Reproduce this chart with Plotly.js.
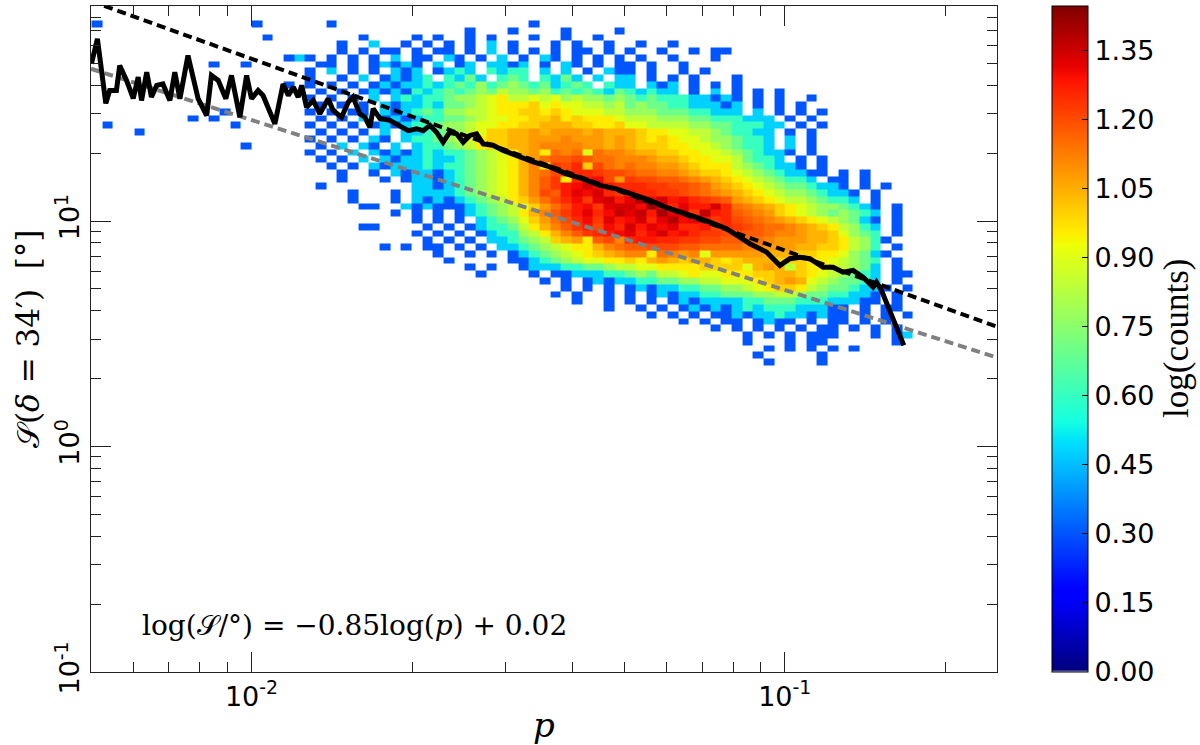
<!DOCTYPE html>
<html>
<head>
<meta charset="utf-8">
<script src="https://cdn.plot.ly/plotly-3.0.1.min.js"></script>
<style>html,body{margin:0;padding:0;background:#fff;}#chart{width:1200px;height:745px;}</style>
</head>
<body>
<div id="chart"></div>
<script>
// ---------- binning grid of the 2D histogram (log10 of p and of S) ----------
const pBinLogStart = -2.30, pBinLogStep = 0.02, pBinCount = 78;
const sBinLogStart = 0.33,  sBinLogStep = 0.03, sBinCount = 52;

// ---------- counts per cell (top row = highest S) ----------
// '.' = empty, otherwise a base-36 count (2..9, a=10 ... s=28); blocks of 10 columns
const countRows = [
'2......... .....2.... ..2....... .......... .2........ .......... .......... ........',
'.......... .......... .......... .....2...2 ....2....2 .......... .......... ........',
'.......... ......2... .....2.... 2.2..2.2.. .2..2..2.. .......... .......... ........',
'.......... .......... ...2..3..2 .2.2.2.3.2 ...2.2..2. .2..2..... .......... ........',
'.......... .......... ...2.2.22. 2.22.2.3.2 .2.2.22.2. 2..2..2.22 .......... ........',
'.......... ........23 2.2.2.2.3. 22.32.2.3. 2.32.2.2.2 .2..2...2. .......... ........',
'.......... .2..2..... .22.2.2323 2.3.23.332 3.2.32.2.2 2.2..2.... .......... ........',
'.......... .......... 2.3.2.2.32 3.2343.434 4.3.3.2.32 2.2..2.2.. .......... ........',
'.......... .......... 2..2.3.232 34.4353.45 4.4353.3.3 3.2.2.2... 2......... ........',
'.......... ........2. 2.2.2.2323 3434546456 5453454.43 3.323.2.2. 2......... ........',
'.......... .......... .2.2.23232 4345456576 6564545435 43433.2.3. 2.2.2..... ........',
'.......... .......... 2.2.2.3.34 3445667897 7878676656 5454443323 2.2.2..2.. ........',
'.......... .......... .2.2.2.323 3435567899 9a89887767 5655443332 3.2.2.2... ........',
'.......... ..2....... 2.2.22.323 4546677899 aa9a988877 6665554433 3.3.2.2.2. ........',
'.........2 .2........ .2.2.3.232 3445567889 9aab9a9998 7776665544 4333.2.2.. ........',
'.2........ ...2...... 2.2.2.2323 4456678899 aabbbaa99a 8877776655 44433.2.2. ........',
'....2..... .......... .2.2.2.3.3 3455678aab bcbcccbcbb ba99887765 4433.2.2.. ........',
'.......... .......... 2.2.2.32.3 4456789aab bcccdcccbc ba9a988766 5443.3.2.. ........',
'.......... ....2..... .2.3.32.3. 3445679aab bcddddccbc baaa998876 5443.3.2.. ........',
'.......... .......... 2.2.3.3232 3434456789 bc9ede8edd cbbaa99887 654332.2.. ........',
'.......... .......... .2.2.3.323 3433456789 bceffgfeed ddcbba9988 75443.2.2. ........',
'.......... .......... ..2.2.3233 3434456789 bd9hgiaged eddccba999 7654332.2. ........',
'.......... .......... ...2..2.32 3323456789 bdeghiihgg feeddcbaa9 876543322. 2.2.....',
'.......... .......... ...2...2.2 3323456789 bdfh9ijkgc hggffedcba 98765443.2 2.2.....',
'.......... .......... .2........ 3323456789 bdfhjkmkji iihhggfecb a987655433 2.2.2...',
'.......... .......... ....2...2. 3333456789 bdgfjlkmih jiihhgfedc ba98766543 32.2....',
'.......... .......... ....2...2. 3232345679 acegikhlmj lpkmjkihgf cba9877654 43.2....',
'.......... .......... .....22..3 2322234567 8acegjkhlm mkqliljjmi edcba98766 5432.2..',
'.......... .......... ........2. 2.2.234567 9bdfhjlikn lnjplmhnji fedca98765 6543.2..',
'.......... .......... .......... 2.2.2.3456 8acegikhlj kmilokljhi gfedcba987 6532.2..',
'.......... .......... .....22... .2.2.23445 79bdfhjgki mjlkliijgi hgfeedcba9 7643.2..',
'.......... .......... .......... 2.2.2.2344 679bdfhijk likmjkihhg gffeddcbba 8654.2..',
'.......... .......... .......... .2.2.2.334 567abc9fgd ijjiihhggf feedcccbba 97642...',
'.......... .......... .......2.2 .22.2.2.33 4567899bde ffgggffeee eddcccbbaa 9764.2..',
'.......... .......... .......... ..2..2.2.2 3456789abc dd9edcd8cc cccbbbaa99 86532...',
'.......... .......... .......... ...2.....2 2345678899 a9bcbabba9 abbbaaa998 7654.2..',
'.......... .......... .......... .....2.2.. 2333445567 7889999aaa a8bcb7a998 7653.2..',
'.......... .......... .......... ......2... .2.2233344 5657789889 99aabba987 6543.22.',
'.......... .......... .......... .......... ..2.2.2323 3445566778 889abcb876 5543.2..',
'.......... .......... .......... .......... ....2.2.2. 2323344556 6789aa9765 54332.2.',
'.......... .......... .......... .......... ...2.2..2. 2.23233445 5566776554 4332.2..',
'.......... .......... .......... .......... .....2..2. 2.2.232333 3445554443 3322.2..',
'.......... .......... .......... .......... ........2. .2.2.23232 3434443332 2.2.22..',
'.......... .......... .......... .......... .......... ..2.2.2.22 3233433232 2.2.2.2.',
'.......... .......... .......... .......... .......... .....2.2.2 2.2322.2.2 2.2.2...',
'.......... .......... .......... .......... .......... ........2. 2.2.2.2.22 .2.2.2..',
'.......... .......... .......... .......... .......... .......... .2.2.2.222 ...2.23.',
'.......... .......... .......... .......... .......... .......... .2...2.22. .....2..',
'.......... .......... .......... .......... .......... .......... ...2.2.2.2 .2......',
'.......... .......... .......... .......... .......... .......... ..2.....2. ........',
'.......... .......... .......... .......... .......... .......... ...2....2. ........',
'.......... .......... .......... .......... .......... .......... .......... ........'
];

// ---------- running curve (black solid line) ----------
const lineP = [0.00501,0.00514,0.00533,0.00542,0.00558,0.00566,0.00583,0.00600,0.00613,0.00622,
0.00636,0.00649,0.00664,0.00682,0.00703,0.00718,0.00734,0.00760,0.00794,0.00824,
0.00841,0.00866,0.00895,0.00917,0.00951,0.00979,0.01000,0.01029,0.01051,0.01106,
0.01146,0.01172,0.01198,0.01223,0.01242,0.01268,0.01305,0.01343,0.01392,0.01422,
0.01475,0.01518,0.01550,0.01596,0.01631,0.01667,0.01691,0.01741,0.01817,0.01897,
0.01967,0.02039,0.02099,0.02160,0.02223,0.02287,0.02354,0.02423,0.02494,0.02567,
0.02642,0.02719,0.02837,0.02963,0.03142,0.03375,0.03625,0.03896,0.04186,0.04498,
0.04834,0.05193,0.05580,0.05998,0.06444,0.06832,0.07233,0.07775,0.08232,0.08599,
0.09240,0.09792,0.1022,0.1067,0.1114,0.1180,0.1232,0.1286,0.1343,0.1402,
0.1464,0.1485,0.1518,0.1574,0.1620,0.1672];
const lineS = [49.9,64.4,33.3,38.0,38.0,49.0,42.1,35.0,43.5,34.3,
45.8,35.5,40.0,40.6,34.3,45.8,34.9,54.3,34.9,29.4,
44.3,42.1,34.9,44.3,28.9,44.3,34.9,38.0,36.1,27.0,
40.6,36.1,39.3,35.5,40.0,32.0,34.3,29.9,34.9,31.0,
28.9,33.7,35.5,29.9,28.9,26.1,31.5,28.5,28.0,26.6,
25.2,25.7,25.2,26.6,24.8,22.4,24.8,24.4,22.4,24.0,
24.4,22.0,21.7,20.6,19.5,18.3,17.4,16.2,15.4,14.4,
13.9,13.2,12.4,11.5,10.8,10.4,9.90,9.25,8.49,7.94,
7.29,6.36,6.81,6.92,6.81,6.25,6.25,5.94,6.05,5.64,
5.10,5.36,4.93,3.95,3.33,2.81];

// ---------- straight lines ----------
const fitP = [0.005, 0.25];          // black dashed: log(S) = -0.85 log(p) + 0.02
const fitS = [94.6, 3.40];
const lowerP = [0.005, 0.25];        // grey dashed
const lowerS = [47.4, 2.48];

// ---------- ticks ----------
const xTickVals = [0.01, 0.1];
const xTickText = ['10<sup>-2</sup>', '10<sup>-1</sup>'];
const xMinorVals = [0.006,0.007,0.008,0.009,0.02,0.03,0.04,0.05,0.06,0.07,0.08,0.09,0.2];
const yTickVals = [0.1, 1, 10];
const yTickText = ['10<sup>-1</sup>', '10<sup>0</sup>', '10<sup>1</sup>'];
const yMinorVals = [0.2,0.3,0.4,0.5,0.6,0.7,0.8,0.9,2,3,4,5,6,7,8,9,20,30,40,50,60,70,80];
const cbTickVals = [0,0.15,0.30,0.45,0.60,0.75,0.90,1.05,1.20,1.35];
const cbMax = 1.447;

// ---------- build histogram arrays ----------
const pEdges = [], sEdges = [];
for (let j = 0; j <= pBinCount; j++) pEdges.push(Math.pow(10, pBinLogStart + j * pBinLogStep));
for (let i = 0; i <= sBinCount; i++) sEdges.push(Math.pow(10, sBinLogStart + i * sBinLogStep));
const z = countRows.slice().reverse().map(function (row) {
  const s = row.replace(/\s/g, '');
  const out = [];
  for (let j = 0; j < pBinCount; j++) {
    const ch = s.charAt(j);
    if (!ch || ch === '.') { out.push(null); continue; }
    out.push(Math.log10(parseInt(ch, 36)));
  }
  return out;
});

const jet = [
  [0, 'rgb(215,215,235)'], [0.003, 'rgb(0,0,128)'], [0.11, 'rgb(0,0,255)'], [0.125, 'rgb(0,0,255)'],
  [0.34, 'rgb(0,219,255)'], [0.35, 'rgb(0,229,247)'], [0.375, 'rgb(20,255,226)'],
  [0.64, 'rgb(238,255,8)'], [0.65, 'rgb(247,245,0)'], [0.66, 'rgb(255,236,0)'],
  [0.89, 'rgb(255,18,0)'], [0.91, 'rgb(232,0,0)'], [1, 'rgb(128,0,0)']
];

const traces = [
  {
    type: 'heatmap', x: pEdges, y: sEdges, z: z,
    zmin: 0, zmax: cbMax, zauto: false, colorscale: jet, hoverinfo: 'skip',
    colorbar: {
      xref: 'paper', x: (1052 - 91) / 906, xanchor: 'left', xpad: 0,
      yref: 'paper', y: 0.5, yanchor: 'middle', ypad: 0,
      len: 1, lenmode: 'fraction', thickness: 36, thicknessmode: 'pixels',
      outlinewidth: 1, outlinecolor: '#000',
      tickmode: 'array', tickvals: cbTickVals, tickformat: '.2f',
      ticks: 'inside', ticklen: 6, tickcolor: '#000',
      tickfont: {family: 'DejaVu Sans', size: 27, color: '#000'}
    }
  },
  {type: 'scatter', mode: 'lines', x: lowerP, y: lowerS, hoverinfo: 'skip',
   line: {color: 'rgb(128,128,128)', width: 4, dash: '9px,5px'}},
  {type: 'scatter', mode: 'lines', x: fitP, y: fitS, hoverinfo: 'skip',
   line: {color: '#000', width: 4, dash: '9px,5px'}},
  {type: 'scatter', mode: 'lines', x: lineP, y: lineS, hoverinfo: 'skip',
   line: {color: '#000', width: 5}}
];

const axisCommon = {
  type: 'log', tickmode: 'array', ticks: 'inside', ticklen: 20, tickwidth: 1, tickcolor: '#222',
  showline: true, linecolor: '#222', linewidth: 1.3, mirror: 'allticks',
  showgrid: false, zeroline: false, automargin: false,
  tickfont: {family: 'DejaVu Sans', size: 27, color: '#000'}
};

const layout = {
  width: 1200, height: 745,
  margin: {l: 91, r: 203, t: 6, b: 73, pad: 0},
  paper_bgcolor: '#fff', plot_bgcolor: '#fff', showlegend: false, hovermode: false,
  xaxis: Object.assign({}, axisCommon, {
    range: [Math.log10(0.005), Math.log10(0.25)],
    tickvals: xTickVals, ticktext: xTickText,
    minor: {tickmode: 'array', tickvals: xMinorVals, ticks: 'inside', ticklen: 10, tickwidth: 1, tickcolor: '#222', showgrid: false},
    title: {text: '<i>p</i>', font: {family: 'DejaVu Serif', size: 34, color: '#000'}, standoff: 2}
  }),
  yaxis: Object.assign({}, axisCommon, {
    range: [-1, Math.log10(90)], tickangle: -90,
    tickvals: yTickVals, ticktext: yTickText,
    minor: {tickmode: 'array', tickvals: yMinorVals, ticks: 'inside', ticklen: 10, tickwidth: 1, tickcolor: '#222', showgrid: false}
  }),
  annotations: [
    {
      xref: 'paper', yref: 'paper', x: (354 - 91) / 906, y: (672 - 625) / 666,
      xanchor: 'center', yanchor: 'middle', showarrow: false,
      text: 'log(𝒮/°) = −0.85log(<i>p</i>) + 0.02',
      font: {family: 'DejaVu Serif', size: 28, color: '#000'}
    },
    {
      xref: 'paper', yref: 'paper', x: (28 - 91) / 906, y: 0.5,
      xanchor: 'center', yanchor: 'middle', showarrow: false, textangle: -90,
      text: '𝒮(<i>δ</i> = 34′)  [°]',
      font: {family: 'DejaVu Serif', size: 31, color: '#000'}
    },
    {
      xref: 'paper', yref: 'paper', x: (1176 - 91) / 906, y: 0.5,
      xanchor: 'center', yanchor: 'middle', showarrow: false, textangle: -90,
      text: 'log(counts)',
      font: {family: 'Liberation Serif', size: 35, color: '#000'}
    }
  ]
};

Plotly.newPlot('chart', traces, layout, {staticPlot: true, displayModeBar: false});
</script>
</body>
</html>
